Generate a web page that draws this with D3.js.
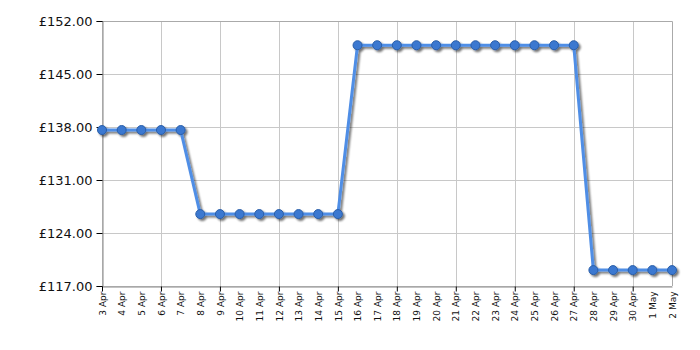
<!DOCTYPE html>
<html><head><meta charset="utf-8">
<script src="https://cdn.jsdelivr.net/npm/d3@7"></script>
<style>body{margin:0;background:#fff}svg{display:block}</style>
</head><body><svg id="c" width="700" height="350"></svg>
<script>
const dates = ["3 Apr","4 Apr","5 Apr","6 Apr","7 Apr","8 Apr","9 Apr","10 Apr","11 Apr","12 Apr","13 Apr","14 Apr","15 Apr","16 Apr","17 Apr","18 Apr","19 Apr","20 Apr","21 Apr","22 Apr","23 Apr","24 Apr","25 Apr","26 Apr","27 Apr","28 Apr","29 Apr","30 Apr","1 May","2 May"];
const prices = [137.6,137.6,137.6,137.6,137.6,126.5,126.5,126.5,126.5,126.5,126.5,126.5,126.5,148.8,148.8,148.8,148.8,148.8,148.8,148.8,148.8,148.8,148.8,148.8,148.8,119.1,119.1,119.1,119.1,119.1];
const yTicks = [117,124,131,138,145,152];
const gridEvery = 3;

const m = {l:102, r:672, t:21, b:286};
const svg = d3.select("#c");
const x = d3.scalePoint().domain(dates).range([m.l, m.r]);
const y = d3.scaleLinear().domain([117,152]).range([m.b, m.t]);

const defs = svg.append("defs");
const f = defs.append("filter").attr("id","sh").attr("x","-20%").attr("y","-20%").attr("width","140%").attr("height","140%");
f.append("feGaussianBlur").attr("in","SourceAlpha").attr("stdDeviation",1).attr("result","b");
f.append("feOffset").attr("in","b").attr("dx",2).attr("dy",2).attr("result","o");
f.append("feComponentTransfer").attr("in","o").attr("result","o2").append("feFuncA").attr("type","linear").attr("slope",0.55);
const mg = f.append("feMerge"); mg.append("feMergeNode").attr("in","o2"); mg.append("feMergeNode").attr("in","SourceGraphic");

// grid
svg.append("g").selectAll("line").data(yTicks).join("line")
  .attr("x1",m.l).attr("x2",m.r).attr("y1",d=>y(d)+0.5).attr("y2",d=>y(d)+0.5)
  .attr("stroke","#c8c8c8").attr("stroke-width",1);
const gridDates = dates.filter((d,i)=>i%gridEvery===0);
svg.append("g").selectAll("line").data(gridDates).join("line")
  .attr("x1",d=>Math.round(x(d))+0.5).attr("x2",d=>Math.round(x(d))+0.5).attr("y1",m.t).attr("y2",m.b)
  .attr("stroke","#c8c8c8").attr("stroke-width",1);
// border right/top
svg.append("path").attr("d",`M${m.l},${m.t+0.5}H${m.r+0.5}V${m.b}`).attr("fill","none").attr("stroke","#aaa");

// y axis
const ya = svg.append("g").attr("transform",`translate(${m.l+0.5},0)`)
  .call(d3.axisLeft(y).tickValues(yTicks).tickSize(6).tickPadding(4).tickFormat(d=>"£"+d3.format(".2f")(d)));
ya.select(".domain").attr("stroke","#888");
ya.selectAll(".tick line").attr("stroke","#000");
ya.selectAll("text").attr("font-family","DejaVu Sans, Verdana, sans-serif").attr("font-size",13).attr("fill","#111");

// x axis
const xa = svg.append("g").attr("transform",`translate(0,${m.b+0.5})`)
  .call(d3.axisBottom(x).tickSize(0).tickPadding(0));
xa.select(".domain").attr("stroke","#888");
xa.selectAll(".tick").each(function(d,i){
  const t = d3.select(this);
  if(i%gridEvery===0) t.select("line").attr("y2",5).attr("stroke","#000"); else t.select("line").remove();
});
xa.selectAll("text").attr("font-family","DejaVu Sans, Verdana, sans-serif").attr("font-size",9).attr("fill","#111")
  .attr("text-anchor","end").attr("dy","0.35em").attr("transform","translate(0,5) rotate(-90)").attr("x",0).attr("y",0);

// line
const pts = dates.map((d,i)=>[x(d), y(prices[i])]);
const g = svg.append("g").attr("filter","url(#sh)");
g.append("path").attr("d", d3.line()(pts)).attr("fill","none").attr("stroke","#4f8ee6").attr("stroke-width",3).attr("stroke-linejoin","round");
g.selectAll("circle").data(pts).join("circle").attr("cx",d=>d[0]).attr("cy",d=>d[1]).attr("r",4.5)
  .attr("fill","#3b78d0").attr("stroke","#2a5ea8").attr("stroke-width",1);
</script></body></html>
